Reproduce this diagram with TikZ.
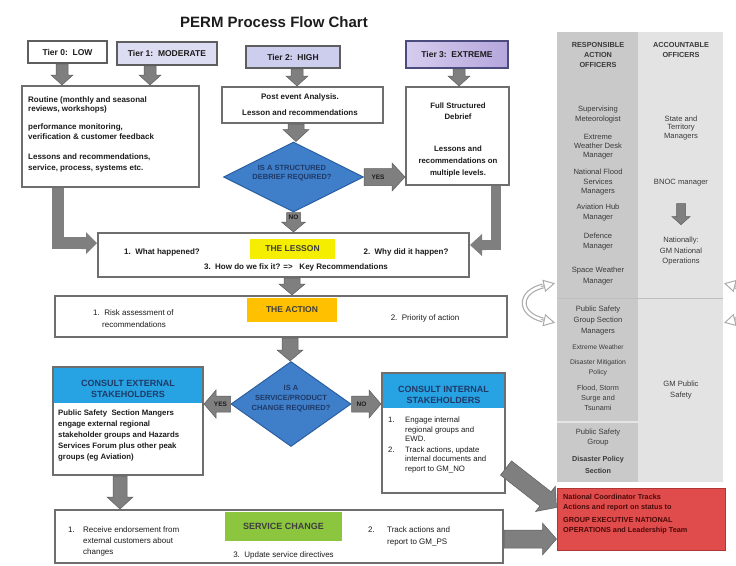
\documentclass[tikz,border=0pt]{standalone}
\usepackage{fontspec}
\setmainfont{Liberation Sans}
\usetikzlibrary{shapes.geometric,calc}

\definecolor{arrgray}{HTML}{7F7F7F}
\definecolor{arrdark}{HTML}{5E5E5E}
\definecolor{boxline}{HTML}{6E6E6E}
\definecolor{txt}{HTML}{1C1C1C}
\definecolor{navy}{HTML}{1F3A68}
\definecolor{lemon}{HTML}{F5EE00}
\definecolor{amber}{HTML}{FFC000}
\definecolor{leaf}{HTML}{8CC63F}
\definecolor{dblue}{HTML}{3F7EC8}
\definecolor{dblueline}{HTML}{2C5F9E}
\definecolor{sky}{HTML}{27A3E3}
\definecolor{panelA}{HTML}{C9C9C9}
\definecolor{panelB}{HTML}{E3E3E3}
\definecolor{paneltxt}{HTML}{3A3A3A}
\definecolor{alert}{HTML}{E04B4B}
\definecolor{alertline}{HTML}{B03535}
\definecolor{alerttxt}{HTML}{4A0A0A}
\definecolor{lavA}{HTML}{DCDCF2}
\definecolor{lavB}{HTML}{CDCDEE}
\definecolor{lavC}{HTML}{D6CCEE}
\definecolor{lavD}{HTML}{B5A6DC}

\newcommand\fs[2]{\fontsize{#1}{#2}\selectfont}
% #1 style, #2 start, #3 end, #4 half shaft, #5 half head, #6 head length
\newcommand\blockarr[6][arrbody]{%
  \path #2 coordinate (ba-s);
  \path #3 coordinate (ba-e);
  \path ($(ba-e)!#6!(ba-s)$) coordinate (ba-n);
  \path[#1] ($(ba-s)!#4!90:(ba-e)$) -- ($(ba-n)!#4!90:(ba-e)$) -- ($(ba-n)!#5!90:(ba-e)$)
    -- (ba-e) -- ($(ba-n)!#5!-90:(ba-e)$) -- ($(ba-n)!#4!-90:(ba-e)$) -- ($(ba-s)!#4!-90:(ba-e)$) -- cycle;
}

\begin{document}
\begin{tikzpicture}[x=1pt,y=-1pt,
  box/.style={draw=boxline,line width=2pt,fill=white,inner sep=0pt},
  tierbox/.style={draw=arrdark,line width=2.5pt,inner sep=0pt,font=\bfseries\fs{8.5}{10},text=txt},
  lbl/.style={inner sep=0pt,text=txt,font=\bfseries\fs{8}{9.5}},
  reg/.style={inner sep=0pt,text=txt,font=\fs{8}{9.5}},
  head/.style={inner sep=0pt,minimum width=148pt,minimum height=35pt,fill=sky},
  headtxt/.style={inner sep=0pt,align=center,text=navy,font=\bfseries\fs{9}{11.5}},
  ptxt/.style={inner sep=0pt,align=center,text=paneltxt,font=\fs{7.6}{9.5}},
  arrbody/.style={fill=arrgray,draw=arrdark,line width=0.5pt},
  yn/.style={inner sep=0pt,text=txt,font=\bfseries\fs{6.5}{7}},
  dia/.style={diamond,draw=dblueline,fill=dblue,line width=1pt,inner sep=0pt},
  diatxt/.style={inner sep=0pt,align=center,text=navy,font=\bfseries\fs{7.5}{9}},
]
\clip (0,0) rectangle (736,565);
\fill[white] (0,0) rectangle (736,565);

% ---------- right panel ----------
\node[fill=panelA,inner sep=0pt,minimum width=81pt,minimum height=450pt,anchor=north west] (colR) at (557,32) {};
\node[fill=panelB,inner sep=0pt,minimum width=85pt,minimum height=450pt,anchor=north west] (colA) at (638,32) {};
\draw[gray!50,line width=1pt] (colR.west |- 0,298) -- (colA.east |- 0,298);
\draw[white!80!gray,line width=1.2pt] (colR.west |- 0,422) -- (colR.east |- 0,422);

\node[ptxt,font=\bfseries\fs{7.3}{10}] (hR) at (598,55) {RESPONSIBLE\\ACTION\\OFFICERS};
\node[ptxt,font=\bfseries\fs{7.3}{10}] (hA) at (681,50) {ACCOUNTABLE\\OFFICERS};

\node[ptxt,font=\fs{7.6}{10}] (pr1) at (598,115) {Supervising\\Meteorologist};
\node[ptxt,font=\fs{7.6}{9}] (pr2) at (598,147) {Extreme\\Weather Desk\\Manager};
\node[ptxt,font=\fs{7.6}{9.5}] (pr3) at (598,182.5) {National Flood\\Services\\Managers};
\node[ptxt,font=\fs{7.6}{10}] (pr4) at (598,213) {Aviation Hub\\Manager};
\node[ptxt,font=\fs{7.6}{10}] (pr5) at (598,242) {Defence\\Manager};
\node[ptxt,font=\fs{7.6}{11}] (pr6) at (598,276.5) {Space Weather\\Manager};
\node[ptxt,font=\fs{7.6}{11}] (pr7) at (598,321) {Public Safety\\Group Section\\Managers};
\node[ptxt,font=\fs{6.6}{8}] (pr8) at (598,347) {Extreme Weather};
\node[ptxt,font=\fs{6.8}{10}] (pr9) at (598,368) {Disaster Mitigation\\Policy};
\node[ptxt,font=\fs{7.3}{10}] (pr10) at (598,398) {Flood, Storm\\Surge and\\Tsunami};
\node[ptxt,font=\fs{7.6}{10}] (pr11) at (598,438) {Public Safety\\Group};
\node[ptxt,font=\bfseries\fs{7.2}{12}] (pr12) at (598,465) {Disaster Policy\\Section};

\node[ptxt,font=\fs{7.6}{8.5}] (pa1) at (681,128) {State and\\Territory\\Managers};
\node[ptxt] (bnoc) at (681,183) {BNOC manager};
\node[ptxt] (pa3) at (681,241) {Nationally:};
\node[ptxt,font=\fs{7.6}{10}] (pa4) at (681,257) {GM National\\Operations};
\node[ptxt,font=\fs{7.6}{11}] (pa5) at (681,390.5) {GM Public\\Safety};
\blockarr{($(bnoc.south)+(0,17)$)}{($(bnoc.south)+(0,38)$)}{4.5pt}{9pt}{8pt}

% ---------- title ----------
\node[inner sep=0pt,text=txt,font=\bfseries\fs{15}{18}] (title) at (274,22) {PERM Process Flow Chart};

% ---------- tiers ----------
\node[tierbox,fill=white,minimum width=79pt,minimum height=22pt] (t0) at (67.5,52) {Tier 0:\ \ LOW};
\node[tierbox,fill=lavA,minimum width=100pt,minimum height=23pt] (t1) at (167,53.5) {Tier 1:\ \ MODERATE};
\node[tierbox,fill=lavB,minimum width=94pt,minimum height=22pt] (t2) at (293,57) {Tier 2:\ \ HIGH};
\node[tierbox,draw=arrdark!80!blue,left color=lavC,right color=lavD,minimum width=102pt,minimum height=27pt] (t3) at (457,54.5) {Tier 3:\ \ EXTREME};

% ---------- routine ----------
\node[box,minimum width=177pt,minimum height=101pt] (routine) at (110.5,136.5) {};
\node[lbl,anchor=west,align=left,font=\bfseries\fs{8}{9}] (r1) at (28,104.5) {Routine (monthly and seasonal\\reviews, workshops)};
\node[lbl,anchor=west,align=left,font=\bfseries\fs{8}{10}] (r2) at (28,132) {performance monitoring,\\verification \& customer feedback};
\node[lbl,anchor=west,align=left,font=\bfseries\fs{8}{11}] (r3) at (28,162.5) {Lessons and recommendations,\\service, process, systems etc.};

% ---------- post event ----------
\node[box,minimum width=161pt,minimum height=36pt] (post) at (302.5,105) {};
\node[lbl] (p1) at (300,97) {Post event Analysis.};
\node[lbl] (p2) at (300,113) {Lesson and recommendations};

% ---------- full structured ----------
\node[box,minimum width=103pt,minimum height=98pt] (full) at (457.5,136) {};
\node[lbl,align=center,font=\bfseries\fs{7.8}{11}] (f1) at (458,111.5) {Full Structured\\Debrief};
\node[lbl,align=center,font=\bfseries\fs{7.8}{12}] (f2) at (458,161) {Lessons and\\recommendations on\\multiple levels.};

% ---------- diamond 1 ----------
\node[dia,minimum width=140pt,minimum height=70pt] (d1) at (293.5,177) {};
\node[diatxt] (d1t) at (292,173.5) {IS A STRUCTURED\\DEBRIEF REQUIRED?};

% ---------- lesson ----------
\node[box,minimum width=371pt,minimum height=44pt] (lesson) at (283.5,255) {};
\node[fill=lemon,minimum width=85pt,minimum height=20pt,inner sep=0pt,text=txt!85,font=\bfseries\fs{8.5}{10}] (lessonlbl) at (292.5,249) {THE LESSON};
\node[lbl] (l1) at (162,252) {1.\ \ What happened?};
\node[lbl] (l2) at (406,252) {2.\ \ Why did it happen?};
\node[lbl] (l3) at (296,267) {3.\ \ How do we fix it? =>\ \ \ Key Recommendations};

% ---------- action ----------
\node[box,minimum width=452pt,minimum height=41pt] (action) at (281,316.5) {};
\node[fill=amber,minimum width=90pt,minimum height=24pt,inner sep=0pt,text=txt!85,font=\bfseries\fs{8.5}{10}] (actionlbl) at (292,310) {THE ACTION};
\node[reg,anchor=west] (a1) at (93,313) {1.\ \ Risk assessment of};
\node[reg,anchor=west] (a1b) at (102,325) {recommendations};
\node[reg] (a2) at (425,318) {2.\ \ Priority of action};

% ---------- diamond 2 ----------
\node[dia,minimum width=120pt,minimum height=85pt] (d2) at (291,404) {};
\node[diatxt,font=\bfseries\fs{7.5}{10}] (d2t) at (291,399) {IS A\\SERVICE/PRODUCT\\CHANGE REQUIRED?};

% ---------- consult external ----------
\node[box,minimum width=150pt,minimum height=108pt] (ext) at (128,421) {};
\node[head,anchor=north] (exthead) at (128,368) {};
\node[headtxt] (extht) at (128,389) {CONSULT EXTERNAL\\STAKEHOLDERS};
\node[lbl,anchor=west,align=left,font=\bfseries\fs{7.8}{11}] (extb) at (58,435) {Public Safety\ \ Section Mangers\\engage external regional\\stakeholder groups and Hazards\\Services Forum plus other peak\\groups (eg Aviation)};

% ---------- consult internal ----------
\node[box,minimum width=123pt,minimum height=120pt] (int) at (443.5,433) {};
\node[head,minimum width=121pt,minimum height=34pt,anchor=north] (inthead) at (443.5,374) {};
\node[headtxt] (intht) at (443.5,395) {CONSULT INTERNAL\\STAKEHOLDERS};
\node[reg,anchor=west,font=\fs{7.8}{9.5}] (in1) at (388,420) {1.};
\node[reg,anchor=west,align=left,font=\fs{7.8}{9.5}] (in1t) at (405,429.5) {Engage internal\\regional groups and\\EWD.};
\node[reg,anchor=west,font=\fs{7.8}{9.5}] (in2) at (388,450) {2.};
\node[reg,anchor=west,align=left,font=\fs{7.8}{9.5}] (in2t) at (405,459.5) {Track actions, update\\internal documents and\\report to GM\_NO};

% ---------- service change ----------
\node[box,minimum width=448pt,minimum height=53pt] (service) at (279,536.5) {};
\node[fill=leaf,minimum width=117pt,minimum height=29pt,inner sep=0pt,text=txt!85,font=\bfseries\fs{9}{10}] (servicelbl) at (283.5,526) {SERVICE CHANGE};
\node[reg,anchor=west] (s1) at (68,530) {1.};
\node[reg,anchor=west,align=left,font=\fs{8}{11}] (s1t) at (83,541) {Receive endorsement from\\external customers about\\changes};
\node[reg,anchor=west] (s2) at (368,530) {2.};
\node[reg,anchor=west,align=left,font=\fs{8}{12}] (s2t) at (387,536) {Track actions and\\report to GM\_PS};
\node[reg] (s3) at (283.5,555) {3.\ \ Update service directives};

% ---------- red box ----------
\node[fill=alert,draw=alertline,line width=1pt,minimum width=168pt,minimum height=62pt,inner sep=0pt] (red) at (641,519) {};
\node[anchor=west,align=left,inner sep=0pt,text=alerttxt,font=\bfseries\fs{7.3}{10}] (redt1) at (563,503) {National Coordinator Tracks\\Actions and report on status to};
\node[anchor=west,align=left,inner sep=0pt,text=alerttxt,font=\bfseries\fs{7.3}{10}] (redt2) at (563,526) {GROUP EXECUTIVE NATIONAL\\OPERATIONS and Leadership Team};

% ---------- arrows ----------
\blockarr{($(t0.south)+(-5.5,0)$)}{($(t0.south |- routine.north)+(-5.5,0)$)}{6pt}{11pt}{10pt}
\blockarr{($(t1.south)+(-17,0)$)}{($(t1.south |- routine.north)+(-17,0)$)}{6pt}{11pt}{10pt}
\blockarr{($(t2.south)+(4,0)$)}{($(t2.south |- post.north)+(4,0)$)}{6pt}{11pt}{10pt}
\blockarr{($(t3.south)+(2,0)$)}{($(t3.south |- full.north)+(2,0)$)}{6pt}{11pt}{10pt}
\blockarr{($(post.south)+(-6.5,0)$)}{($(post.south |- d1.north)+(-6.5,0)$)}{8pt}{13pt}{12pt}

\blockarr{(d1.south)}{(d1.south |- lesson.north)}{7pt}{12pt}{10pt}
\node[yn] (no1) at ($(d1.south)+(0,5)$) {NO};
\blockarr{(d1.east)}{(d1.east -| full.west)}{8.5pt}{14pt}{13pt}
\node[yn] (yes1) at ($(d1.east)+(14,0)$) {YES};

\draw[arrgray,line width=12pt,line join=miter] ($(routine.south west)+(37,0)$) |- ($(lesson.west)+(-12,-12)$);
\blockarr[fill=arrgray]{($(lesson.west)+(-16,-12)$)}{($(lesson.west)+(0,-12)$)}{6pt}{11pt}{11pt}
\draw[arrgray,line width=10pt,line join=miter] ($(full.south)+(38.5,0)$) |- ($(lesson.east)+(12,-10)$);
\blockarr[fill=arrgray]{($(lesson.east)+(16,-10)$)}{($(lesson.east)+(0,-10)$)}{5pt}{11pt}{12pt}

\blockarr{($(lesson.south)+(8.5,0)$)}{($(lesson.south |- action.north)+(8.5,0)$)}{8pt}{13pt}{11pt}
\blockarr{($(action.south)+(9,0)$)}{($(action.south |- d2.north)+(9,0)$)}{8pt}{13pt}{11pt}

\blockarr{(d2.west)}{(d2.west -| ext.east)}{8pt}{14pt}{12pt}
\node[yn] (yes2) at ($(d2.west)+(-10,0)$) {YES};
\blockarr{(d2.east)}{(d2.east -| int.west)}{8pt}{14pt}{12pt}
\node[yn] (no2) at ($(d2.east)+(10,0)$) {NO};

\blockarr{($(ext.south)+(-8,0)$)}{($(ext.south |- service.north)+(-8,0)$)}{7pt}{13pt}{12pt}
\blockarr{($(service.east)+(0,2.5)$)}{($(service.east -| red.west)+(0,2.5)$)}{9pt}{16pt}{14pt}
\blockarr{($(int.east)+(0,35)$)}{($(red.north west)+(0,20)$)}{9pt}{16pt}{14pt}

% ---------- curved outline arrows ----------
\draw[gray!65,line width=5pt] (543,286) .. controls (518,292) and (518,314) .. (543,320);
\draw[white,line width=2.6pt] (543,286) .. controls (518,292) and (518,314) .. (543,320);
\blockarr[fill=white,draw=gray!65,line width=1pt]{(541,286.5)}{(554,283.5)}{0pt}{5.5pt}{10pt}
\blockarr[fill=white,draw=gray!65,line width=1pt]{(541,319.5)}{(554,322.5)}{0pt}{5.5pt}{10pt}
\draw[gray!65,line width=5pt] (735,286) .. controls (760,292) and (760,314) .. (735,320);
\draw[white,line width=2.6pt] (735,286) .. controls (760,292) and (760,314) .. (735,320);
\blockarr[fill=white,draw=gray!65,line width=1pt]{(737,286.5)}{(725,283.5)}{0pt}{5.5pt}{10pt}
\blockarr[fill=white,draw=gray!65,line width=1pt]{(737,319.5)}{(725,322.5)}{0pt}{5.5pt}{10pt}
\end{tikzpicture}
\end{document}
